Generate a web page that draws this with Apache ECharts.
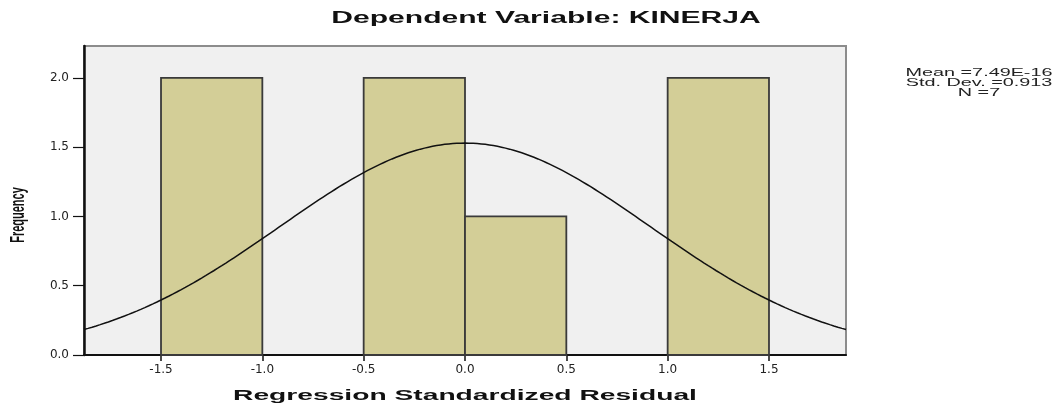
<!DOCTYPE html>
<html><head><meta charset="utf-8">
<script src="https://cdn.jsdelivr.net/npm/echarts@6/dist/echarts.min.js"></script>
<style>html,body{margin:0;padding:0;background:#fff}#c{width:1055px;height:408px}</style>
</head><body><div id="c"></div>
<script>
// ---- data ----
const binStarts = [-1.5, -1.0, -0.5, 0.0, 0.5, 1.0];
const binEnds = [-1.0, -0.5, 0.0, 0.5, 1.0, 1.5];
const frequencies = [2, 0, 2, 1, 0, 2];
const xTickValues = [-1.5, -1.0, -0.5, 0.0, 0.5, 1.0, 1.5];
const yTickValues = [0, 0.5, 1.0, 1.5, 2.0];
const statMean = 7.49e-16;
const statSD = 0.913;
const statN = 7;
const binWidth = 0.5;
const titleText = 'Dependent Variable: KINERJA';
const xName = 'Regression Standardized Residual';
const yName = 'Frequency';
const statsText = 'Mean =7.49E-16\nStd. Dev. =0.913\nN =7';
const xMin = -1.88, xMax = 1.88, yMax = 2.23;

// fitted normal curve from the displayed Mean / Std. Dev. / N
const curve = [];
for (let i = 0; i <= 188; i++) {
  const x = xMin + i * 0.02;
  const z = (x - statMean) / statSD;
  const y = statN * binWidth * Math.exp(-0.5 * z * z) / (statSD * Math.sqrt(2 * Math.PI));
  curve.push([x, y]);
}
const bins = binStarts.map((s, i) => [s, binEnds[i], frequencies[i]]);

const chart = echarts.init(document.getElementById('c'));
const labelFont = 'DejaVu Sans';
chart.setOption({
  animation: false,
  backgroundColor: '#ffffff',
  grid: {left: 84, right: 209, top: 46, bottom: 53, show: true,
         backgroundColor: '#f0f0f0', borderColor: '#8c8c8c', borderWidth: 2},
  xAxis: {
    type: 'value', min: xMin, max: xMax,
    axisLine: {show: true, onZero: false, lineStyle: {color: '#111', width: 2}},
    axisTick: {show: true, customValues: xTickValues, length: 6, lineStyle: {color: '#111', width: 1.5}},
    axisLabel: {customValues: xTickValues, formatter: v => v.toFixed(1), fontFamily: labelFont,
                fontSize: 12, color: '#222', margin: 9},
    splitLine: {show: false}
  },
  yAxis: {
    type: 'value', min: 0, max: yMax,
    axisLine: {show: true, onZero: false, lineStyle: {color: '#111', width: 2.5}},
    axisTick: {show: true, customValues: yTickValues, length: 11, lineStyle: {color: '#111', width: 1.2}},
    axisLabel: {customValues: yTickValues, formatter: v => v.toFixed(1), fontFamily: labelFont,
                fontSize: 12, color: '#222', margin: 15},
    splitLine: {show: false}
  },
  series: [
    {
      type: 'custom',
      data: bins,
      encode: {x: [0, 1], y: 2},
      renderItem: function (params, api) {
        if (api.value(2) === 0) return null;
        const a = api.coord([api.value(0), 0]);
        const b = api.coord([api.value(1), api.value(2)]);
        return {type: 'rect',
          shape: {x: a[0], y: b[1], width: b[0] - a[0], height: a[1] - b[1]},
          style: {fill: '#d3ce97', stroke: '#3a3a3a', lineWidth: 1.8}};
      },
      z: 2
    },
    {
      type: 'line', data: curve, showSymbol: false, smooth: false,
      lineStyle: {color: '#111', width: 1.5}, z: 3
    }
  ],
  graphic: [
    {type: 'text', x: 546, y: 19, scaleX: 1.88,
     style: {text: titleText, font: 'bold 16px "Liberation Sans", Arial', fill: '#111',
             textAlign: 'center', textVerticalAlign: 'middle'}},
    {type: 'text', x: 465, y: 396, scaleX: 1.88,
     style: {text: xName, font: 'bold 15px "Liberation Sans", Arial', fill: '#111',
             textAlign: 'center', textVerticalAlign: 'middle'}},
    {type: 'text', x: 18, y: 215, rotation: Math.PI / 2, scaleY: 1.85,
     style: {text: yName, font: 'bold 11px "Liberation Sans", Arial', fill: '#111',
             textAlign: 'center', textVerticalAlign: 'middle'}},
    {type: 'text', x: 979, y: 83, scaleX: 1.8,
     style: {text: statsText, font: '11px "Liberation Sans", Arial', fill: '#222', lineHeight: 10,
             textAlign: 'center', textVerticalAlign: 'middle'}}
  ]
});
</script></body></html>
